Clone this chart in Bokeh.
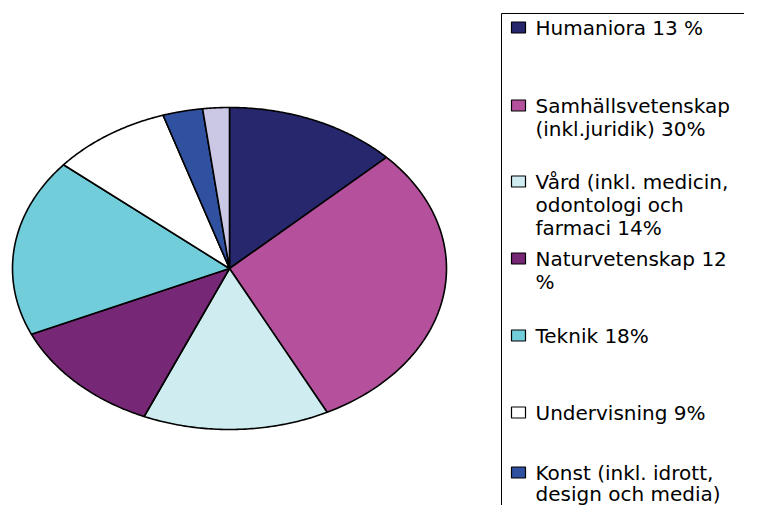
import numpy as np
from bokeh.plotting import figure
from bokeh.models import Range1d
from bokeh.core.properties import value
from bokeh.embed import file_html
from bokeh.resources import INLINE

# ---- data ----
categories = [
    "Humaniora 13 %",
    "Samhällsvetenskap\n(inkl.juridik) 30%",
    "Vård (inkl. medicin,\nodontologi och\nfarmaci 14%",
    "Naturvetenskap 12\n%",
    "Teknik 18%",
    "Undervisning 9%",
    "Konst (inkl. idrott,\ndesign och media)",
    "Övrigt 2%",
]
values = [13, 30, 14, 12, 18, 9, 3, 2]
colors = ["#27276E", "#B4509C", "#CFECF0", "#762775",
          "#70CDD9", "#FFFFFF", "#3051A0", "#CBC8E6"]

# ---- layout (pixels in plot space) ----
W, H = 744, 505
CX, CY, RX, RY = 229, 268, 217, 161
entry_y = [27, 105, 181, 258, 335, 412, 472]   # visible legend entries only
line_h = [23, 23, 23, 23, 23, 23, 21]
FONT = "DejaVu Sans"
FS = "20px"

p = figure(width=W, height=H, output_backend="svg", toolbar_location=None,
           x_range=Range1d(0, W), y_range=Range1d(H, 0),
           min_border=0, outline_line_color=None)
p.axis.visible = False
p.grid.visible = False
p.background_fill_color = "white"
p.border_fill_color = "white"

# pie as elliptical patches
vals = np.array(values, dtype=float)
cum = np.concatenate([[0], np.cumsum(vals)]) / vals.sum()
xs, ys = [], []
for i in range(len(vals)):
    t = np.linspace(cum[i], cum[i + 1], 80) * 2 * np.pi
    px = np.concatenate([[CX], CX + RX * np.sin(t), [CX]])
    py = np.concatenate([[CY], CY - RY * np.cos(t), [CY]])
    xs.append(px.tolist())
    ys.append(py.tolist())
p.patches(xs=xs, ys=ys, fill_color=colors, line_color="black", line_width=1.6,
          line_join="round")

# legend box
p.quad(left=[501], right=[900], top=[13], bottom=[900],
       fill_color=None, line_color="black", line_width=1)

# legend markers and text (entries that fit in the window)
n = len(entry_y)
p.rect(x=[518] * n, y=entry_y, width=14, height=11,
       fill_color=colors[:n], line_color="black", line_width=1.2)
tx, ty, tt = [], [], []
for lab, y0, lh in zip(categories[:n], entry_y, line_h):
    for k, line in enumerate(lab.split("\n")):
        tx.append(535)
        ty.append(y0 + k * lh)
        tt.append(line)
p.text(x=tx, y=ty, text=tt, text_font=value(FONT), text_font_size=FS,
       text_baseline="middle", text_align="left", text_color="black")

open("out.html", "w").write(file_html(p, INLINE))
